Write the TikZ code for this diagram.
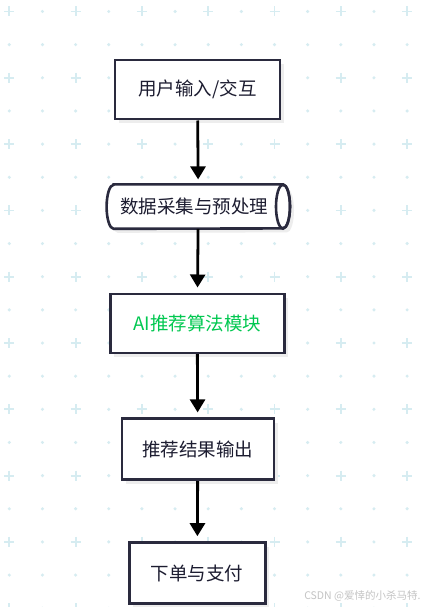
\documentclass[tikz,border=0pt]{standalone}
\usepackage{fontspec}
\setmainfont{Noto Sans CJK SC}
\usetikzlibrary{arrows.meta,shadows}
\definecolor{edgeink}{RGB}{42,42,62}
\definecolor{textink}{RGB}{28,28,48}
\definecolor{algogreen}{RGB}{0,200,80}
\definecolor{gridblue}{RGB}{214,236,241}
\definecolor{markgray}{RGB}{196,196,196}
\tikzset{
  softshadow/.style={drop shadow={shadow xshift=4pt, shadow yshift=-4pt, fill=black!7, opacity=1}},
  block/.style={draw=edgeink, line width=2.6pt, fill=white, text=textink,
    font=\fontsize{18.5}{22}\selectfont, inner sep=0pt, softshadow},
  drumtext/.style={text=textink, font=\fontsize{18.5}{22}\selectfont, inner sep=0pt,
    minimum width=183pt, minimum height=44pt},
  drumline/.style={draw=edgeink, line width=2.6pt, fill=white, softshadow},
  flowarrow/.style={line width=2.8pt, black, shorten >=5pt,
    -{Triangle[width=15pt,length=13pt]}},
}
\begin{document}
\begin{tikzpicture}[x=1pt,y=-1pt]
  \useasboundingbox[fill=white] (0,0) rectangle (428,607);%

  % Drawing grid of dots and crosses
  \foreach \i in {0,...,12} {
    \foreach \j in {0,...,18} {
      \pgfmathsetmacro{\gx}{9.3+33.15*\i}
      \pgfmathsetmacro{\gy}{11.5+33.15*\j}
      \pgfmathtruncatemacro{\both}{(mod(\i,2)==0)&&(mod(\j,2)==0)}
      \ifnum\both=1
        \draw [gridblue, line width=1.8pt] (\gx-5,\gy) -- (\gx+5,\gy) (\gx,\gy-5) -- (\gx,\gy+5);%
      \else
        \fill [gridblue] (\gx,\gy) circle (1.7);%
      \fi
    }
  }

  % Drawing the steps
  \node [block, minimum width=165pt, minimum height=59pt] (input) at (197.5,89.7) {用户输入/交互};%
  \node [drumtext] (collect) at (198.3,206.6) {};%
  \node [block, minimum width=174pt, minimum height=59pt, text=algogreen] (algo) at (197.2,323.3) {AI推荐算法模块};%
  \node [block, minimum width=152pt, minimum height=61pt] (result) at (197.8,449.2) {推荐结果输出};%
  \node [block, minimum width=136pt, minimum height=61pt] (pay) at (197.2,573) {下单与支付};%

  % Drawing the drum round collect
  \draw [drumline] ([xshift=7pt]collect.north west) -- ([xshift=-7pt]collect.north east)
    arc [x radius=7pt, y radius=22pt, start angle=90, end angle=-90]
    -- ([xshift=7pt]collect.south west)
    arc [x radius=7pt, y radius=22pt, start angle=-90, end angle=-270] -- cycle;%
  \draw [draw=edgeink, line width=2.6pt] ([xshift=-7pt]collect.east) ellipse [x radius=7pt, y radius=22pt];%
  \node [drumtext, xshift=-4pt] (collectlabel) at (collect) {数据采集与预处理};%

  % Drawing arrows
  \draw [flowarrow] (input) -- (collect);%
  \draw [flowarrow] (collect) -- (algo);%
  \draw [flowarrow] (algo) -- (result);%
  \draw [flowarrow] (result) -- (pay);%

  % Marking watermark
  \node [anchor=east, text=markgray, font=\fontsize{10.5}{12}\selectfont] (mark) at (424,595.5) {CSDN @爱悻的小杀马特.};%
\end{tikzpicture}
\end{document}
